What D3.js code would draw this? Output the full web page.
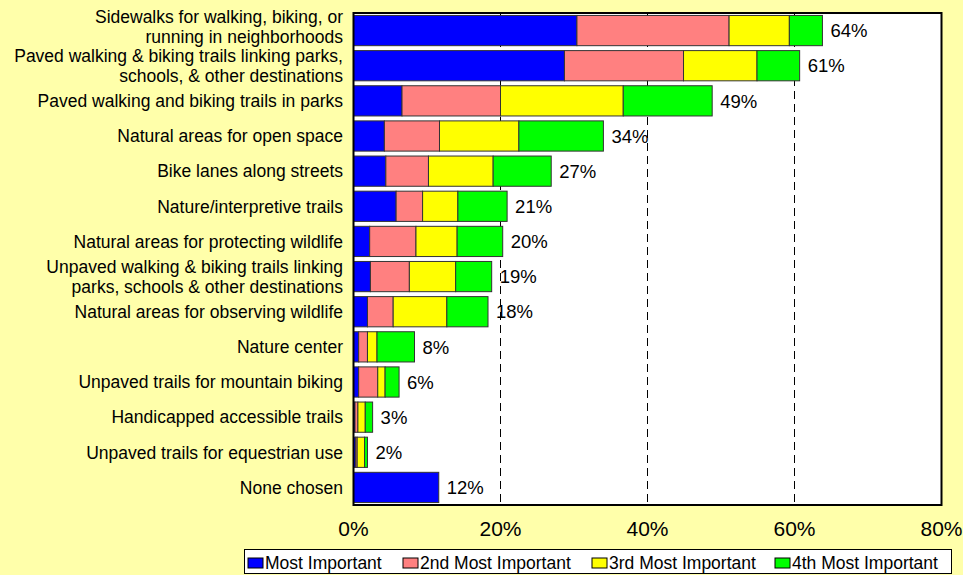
<!DOCTYPE html>
<html>
<head>
<meta charset="utf-8">
<script src="https://cdn.jsdelivr.net/npm/d3@7"></script>
<style>
  body { margin: 0; background: #FFFFAA; }
  svg { display: block; font-family: "Liberation Sans", Arial, sans-serif; }
</style>
</head>
<body>
<div id="vis1"></div>
<script>
const FRAME_WIDTH = 963;
const FRAME_HEIGHT = 575;
const PLOT = {left: 353.5, right: 941.5, top: 13, bottom: 505};

// categories, top to bottom (lines split for wrapping)
const categories = [
  ["Sidewalks for walking, biking, or", "running in neighborhoods"],
  ["Paved walking & biking trails linking parks,", "schools, & other destinations"],
  ["Paved walking and biking trails in parks"],
  ["Natural areas for open space"],
  ["Bike lanes along streets"],
  ["Nature/interpretive trails"],
  ["Natural areas for protecting wildlife"],
  ["Unpaved walking & biking trails linking", "parks, schools & other destinations"],
  ["Natural areas for observing wildlife"],
  ["Nature center"],
  ["Unpaved trails for mountain biking"],
  ["Handicapped accessible trails"],
  ["Unpaved trails for equestrian use"],
  ["None chosen"]
];

// percent of respondents
const mostImportant   = [30.4, 28.7, 6.6, 4.2, 4.4, 5.8, 2.2, 2.3, 1.9, 0.7, 0.7, 0.2, 0.3, 11.6];
const secondImportant = [20.7, 16.2, 13.4, 7.5, 5.8, 3.6, 6.3, 5.3, 3.5, 1.2, 2.6, 0.4, 0.2, 0];
const thirdImportant  = [8.2, 10.0, 16.7, 10.8, 8.8, 4.8, 5.6, 6.3, 7.3, 1.3, 1.0, 1.0, 1.0, 0];
const fourthImportant = [4.5, 5.8, 12.1, 11.5, 7.9, 6.7, 6.2, 4.9, 5.6, 5.1, 1.9, 1.0, 0.4, 0];
const totalLabels = ["64%", "61%", "49%", "34%", "27%", "21%", "20%", "19%", "18%", "8%", "6%", "3%", "2%", "12%"];

const seriesNames = ["Most Important", "2nd Most Important", "3rd Most Important", "4th Most Important"];
const seriesColors = ["#0000FF", "#FF8080", "#FFFF00", "#00FF00"];
const xTicks = [0, 20, 40, 60, 80];
const gridTicks = [20, 40, 60];

const rows = categories.map((c, i) => ({
  key: i,
  s0: mostImportant[i], s1: secondImportant[i], s2: thirdImportant[i], s3: fourthImportant[i]
}));

const svg = d3.select("#vis1")
  .append("svg")
    .attr("width", FRAME_WIDTH)
    .attr("height", FRAME_HEIGHT);

const x_scale = d3.scaleLinear().domain([0, 80]).range([PLOT.left, PLOT.right]);
const y_scale = d3.scaleBand()
  .domain(d3.range(categories.length))
  .range([PLOT.top, PLOT.bottom])
  .paddingInner(0.14)
  .paddingOuter(0.07);

// plot area
svg.append("rect")
  .attr("x", PLOT.left).attr("y", PLOT.top)
  .attr("width", PLOT.right - PLOT.left).attr("height", PLOT.bottom - PLOT.top)
  .attr("fill", "#fff");

// dashed gridlines
svg.selectAll(".grid")
  .data(gridTicks)
  .join("line")
    .attr("x1", d => x_scale(d)).attr("x2", d => x_scale(d))
    .attr("y1", PLOT.top).attr("y2", PLOT.bottom)
    .attr("stroke", "#000")
    .attr("stroke-width", 1)
    .attr("stroke-dasharray", "8,5");

// stacked bars
const stacked = d3.stack().keys(["s0", "s1", "s2", "s3"])(rows);

svg.selectAll(".series")
  .data(stacked)
  .join("g")
    .attr("fill", (d, i) => seriesColors[i])
  .selectAll("rect")
  .data(d => d.filter(p => p[1] - p[0] > 0))
  .join("rect")
    .attr("x", d => x_scale(d[0]))
    .attr("y", d => y_scale(d.data.key))
    .attr("width", d => x_scale(d[1]) - x_scale(d[0]))
    .attr("height", y_scale.bandwidth())
    .attr("stroke", "#333")
    .attr("stroke-width", 1);

// value labels
const totals = rows.map(r => r.s0 + r.s1 + r.s2 + r.s3);
svg.selectAll(".val")
  .data(totalLabels)
  .join("text")
    .attr("x", (d, i) => x_scale(totals[i]) + 8)
    .attr("y", (d, i) => y_scale(i) + y_scale.bandwidth() / 2)
    .attr("dy", "0.36em")
    .attr("font-size", "18.5px")
    .attr("fill", "#000")
    .text(d => d);

// plot border
svg.append("rect")
  .attr("x", PLOT.left).attr("y", PLOT.top)
  .attr("width", PLOT.right - PLOT.left).attr("height", PLOT.bottom - PLOT.top)
  .attr("fill", "none")
  .attr("stroke", "#000")
  .attr("stroke-width", 2);

// category labels
const lineH = 19.5;
svg.selectAll(".cat")
  .data(categories)
  .join("text")
    .attr("text-anchor", "end")
    .attr("font-size", "17.5px")
    .attr("fill", "#000")
    .each(function(lines, i) {
      // the top label sits a little higher so it clears the next one
      const cy = y_scale(i) + y_scale.bandwidth() / 2 - (i === 0 ? 4 : 0);
      const first = cy - (lines.length - 1) * lineH / 2;
      d3.select(this).selectAll("tspan")
        .data(lines)
        .join("tspan")
          .attr("x", 343)
          .attr("y", (l, j) => first + j * lineH)
          .attr("dy", "0.36em")
          .text(l => l);
    });

// x axis tick labels
svg.selectAll(".tick")
  .data(xTicks)
  .join("text")
    .attr("x", d => x_scale(d))
    .attr("y", 536)
    .attr("text-anchor", "middle")
    .attr("font-size", "21px")
    .attr("fill", "#000")
    .text(d => d + "%");

// legend
svg.append("rect")
  .attr("x", 244.5).attr("y", 549.5)
  .attr("width", 707).attr("height", 24)
  .attr("fill", "#fff")
  .attr("stroke", "#000")
  .attr("stroke-width", 1);

const legendX = [248, 403, 592, 775];
const legend = svg.selectAll(".leg")
  .data(seriesNames)
  .join("g")
    .attr("transform", (d, i) => `translate(${legendX[i]}, 558)`);

legend.append("rect")
  .attr("width", 15).attr("height", 10)
  .attr("fill", (d, i) => seriesColors[i])
  .attr("stroke", "#000")
  .attr("stroke-width", 1);

legend.append("text")
  .attr("x", 17)
  .attr("y", 5)
  .attr("dy", "0.36em")
  .attr("font-size", "17.5px")
  .attr("fill", "#000")
  .text(d => d);
</script>
</body>
</html>
